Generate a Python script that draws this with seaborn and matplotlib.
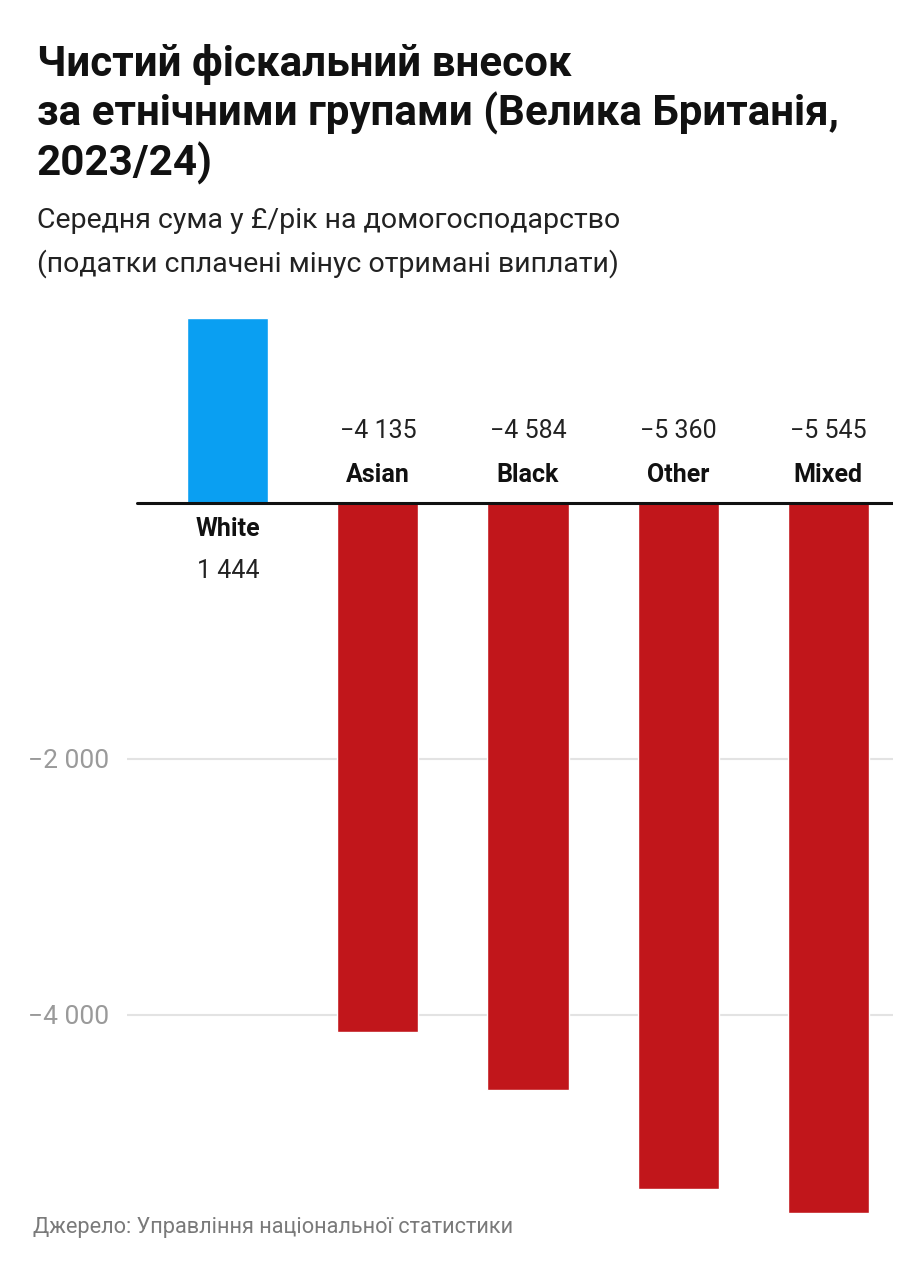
import matplotlib
matplotlib.use('Agg')
import matplotlib.pyplot as plt
import seaborn as sns
import pandas as pd

# ------------------------------------------------------------------
# Data
# ------------------------------------------------------------------
groups = ['White', 'Asian', 'Black', 'Other', 'Mixed']
values = [1444, -4135, -4584, -5360, -5545]
value_labels = ['1 444', '\u22124 135', '\u22124 584', '\u22125 360', '\u22125 545']
yticks = [-2000, -4000]
ytick_labels = ['\u22122 000', '\u22124 000']

title = 'Чистий фіскальний внесок\nза етнічними групами (Велика Британія,\n2023/24)'
subtitle = 'Середня сума у £/рік на домогосподарство\n(податки сплачені мінус отримані виплати)'
source = 'Джерело: Управління національної статистики'

POS = '#0a9ff2'
NEG = '#c1161b'

df = pd.DataFrame({'group': groups, 'value': values})
palette = {g: (POS if v >= 0 else NEG) for g, v in zip(groups, values)}

sns.set_theme(style='white')
plt.rcParams['font.family'] = ['Roboto', 'DejaVu Sans']

fig = plt.figure(figsize=(9.21, 12.8), dpi=100)
fig.patch.set_facecolor('white')
ax = fig.add_axes([127 / 921, 1 - 1220 / 1280, 766 / 921, 920 / 1280])

sns.barplot(data=df, x='group', y='value', hue='group', palette=palette,
            width=0.54, saturation=1, legend=False, ax=ax, zorder=3)

ax.set_xlim(-0.673, 4.433)
ax.set_ylim(-5602, 1586)

# grid + baseline
for t in yticks:
    ax.axhline(t, color='#e3e3e3', lw=1.5, zorder=1)
ax.axhline(0, xmin=0.013, xmax=1, color='#111111', lw=2.2, zorder=4)

ax.set_yticks(yticks)
ax.set_yticklabels(ytick_labels, fontsize=19, color='#9a9a9a')
ax.tick_params(axis='y', length=0, pad=13)
ax.set_xticks([])
ax.set_xlabel('')
ax.set_ylabel('')
for s in ax.spines.values():
    s.set_visible(False)

# bar labels
for i, (g, v, lab) in enumerate(zip(groups, values, value_labels)):
    if v >= 0:
        ax.annotate(g, xy=(i, 0), xytext=(0, -19), textcoords='offset points',
                    ha='center', va='center', fontsize=18, fontweight='bold', color='#111111')
        ax.annotate(lab, xy=(i, 0), xytext=(0, -49), textcoords='offset points',
                    ha='center', va='center', fontsize=18, color='#222222')
    else:
        ax.annotate(g, xy=(i, 0), xytext=(0, 20), textcoords='offset points',
                    ha='center', va='center', fontsize=18, fontweight='bold', color='#111111')
        ax.annotate(lab, xy=(i, 0), xytext=(0, 52), textcoords='offset points',
                    ha='center', va='center', fontsize=18, color='#222222')

# titles
fig.text(37 / 921, 1 - 44 / 1280, title, ha='left', va='top', fontsize=30.3,
         fontweight='bold', color='#111111', linespacing=1.2)
fig.text(37 / 921, 1 - 207 / 1280, subtitle, ha='left', va='top', fontsize=20.5,
         color='#222222', linespacing=1.7)
fig.text(33 / 921, 1 - 1228 / 1280, source, ha='left', va='center', fontsize=15.7,
         color='#7a7a7a')

fig.savefig('out.png', dpi=100, facecolor='white')
